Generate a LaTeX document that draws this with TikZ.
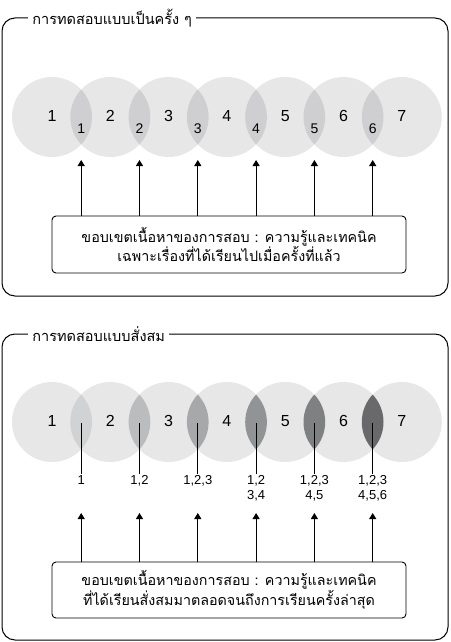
\documentclass[tikz,border=0pt]{standalone}
\usepackage{fontspec}
\setmainfont{Liberation Sans}
\newfontfamily\thaifont[Script=Thai]{Loma}
\definecolor{circgray}{RGB}{231,231,231}
\definecolor{lensgray}{RGB}{207,207,209}
\definecolor{lensA}{RGB}{209,210,212}
\definecolor{lensB}{RGB}{187,188,190}
\definecolor{lensC}{RGB}{166,168,170}
\definecolor{lensD}{RGB}{146,147,149}
\definecolor{lensE}{RGB}{127,128,130}
\definecolor{lensF}{RGB}{105,105,107}
\usetikzlibrary{arrows.meta,positioning,calc}

\begin{document}
\begin{tikzpicture}[x=1pt, y=-1pt, line width=0.9pt,
  frame/.style={draw, rounded corners=13pt, line width=1pt},
  frametitle/.style={fill=white, anchor=west, inner xsep=4pt, font=\thaifont\fontsize{14.5}{16}\selectfont},
  scopebox/.style={draw, rounded corners=4pt, minimum width=354pt, align=center, line width=0.9pt,
    font=\thaifont\fontsize{14.3}{16.7}\selectfont},
  bignum/.style={font=\fontsize{16}{17}\selectfont},
  smallnum/.style={font=\fontsize{13}{14.5}\selectfont},
  uparrow/.style={-{Triangle[width=7pt,length=6pt]}, line width=0.9pt}]
\useasboundingbox (0,0) rectangle (450,642);

% ---------- top panel: separate tests ----------
\draw[frame] (2,18) rectangle (448,296);
\node[frametitle] (titleA) at (28,18) {การทดสอบแบบเป็นครั้ง ๆ};
% circles
\foreach \i in {1,...,7}
  \fill[circgray] ({52+58.3*(\i-1)},117) circle[radius=40];
% overlaps
\foreach \i in {1,...,6}{
  \begin{scope}
    \clip ({52+58.3*(\i-1)},117) circle[radius=40];
    \fill[lensgray] ({52+58.3*\i},117) circle[radius=40];
  \end{scope}
}
\foreach \i in {1,...,7}
  \node[bignum] (ca\i) at ({52+58.3*(\i-1)},116) {\i};
\foreach \i in {1,...,6}{
  \node[smallnum, font=\fontsize{14}{15}\selectfont] (la\i) at ({81.2+58.3*(\i-1)},129) {\i};
  \coordinate (ta\i) at ({81.2+58.3*(\i-1)},160);
}
\node[scopebox, minimum height=57pt] (boxA) at (229,244.5)
  {ขอบเขตเนื้อหาของการสอบ : ความรู้และเทคนิค\\เฉพาะเรื่องที่ได้เรียนไปเมื่อครั้งที่แล้ว};
\foreach \i in {1,...,6}
  \draw[uparrow] (boxA.north -| ta\i) -- (ta\i);

% ---------- bottom panel: cumulative tests ----------
\draw[frame] (2,334) rectangle (448,640);
\node[frametitle] (titleB) at (28,334) {การทดสอบแบบสั่งสม};
\foreach \i in {1,...,7}
  \fill[circgray] ({52+58.3*(\i-1)},422) circle[radius=40];
\foreach \i/\c in {1/lensA,2/lensB,3/lensC,4/lensD,5/lensE,6/lensF}{
  \begin{scope}
    \clip ({52+58.3*(\i-1)},422) circle[radius=40];
    \fill[\c] ({52+58.3*\i},422) circle[radius=40];
  \end{scope}
}
\foreach \i in {1,...,7}
  \node[bignum] (cb\i) at ({52+58.3*(\i-1)},421) {\i};
\foreach \i/\t in {1/{1},2/{1,2},3/{1,2,3},4/{1,2\\3,4},5/{1,2,3\\4,5},6/{1,2,3\\4,5,6}}{
  \coordinate (lc\i) at ({81.2+58.3*(\i-1)},423);
  \node[smallnum, anchor=north, align=center, inner sep=1pt] (lb\i) at ({81.2+58.3*(\i-1)},474) {\t};
  \draw[line width=0.9pt] (lc\i) -- (lb\i.north);
  \coordinate (tb\i) at ({81.2+58.3*(\i-1)},513);
}
\node[scopebox, minimum height=56pt] (boxB) at (229,590)
  {ขอบเขตเนื้อหาของการสอบ : ความรู้และเทคนิค\\ที่ได้เรียนสั่งสมมาตลอดจนถึงการเรียนครั้งล่าสุด};
\foreach \i in {1,...,6}
  \draw[uparrow] (boxB.north -| tb\i) -- (tb\i);
\end{tikzpicture}
\end{document}
